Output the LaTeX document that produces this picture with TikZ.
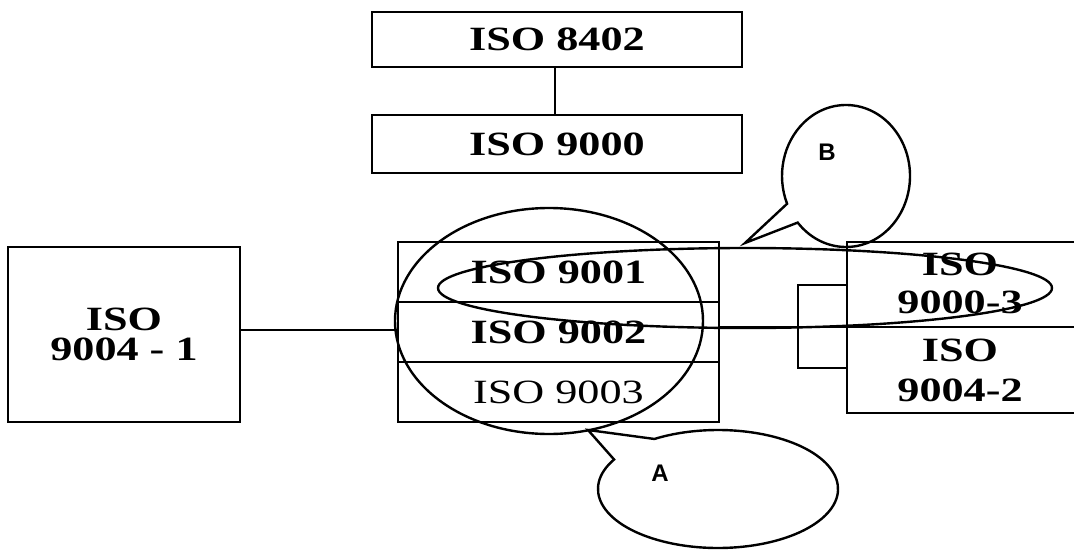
\documentclass[tikz,border=0pt]{standalone}
\usepackage{fontspec}
\newfontfamily\isofont[FakeStretch=1.3]{Liberation Serif}
\newfontfamily\labfont{Liberation Sans}
\usetikzlibrary{calc}
\begin{document}
\begin{tikzpicture}[x=0.75pt,y=0.75pt,line width=1.8pt,
  isotext/.style={inner sep=0pt, align=center, font=\isofont\bfseries\fontsize{25.5}{23}\selectfont},
  box/.style={isotext, draw, rectangle},
  lab/.style={inner sep=0pt, font=\labfont\bfseries\fontsize{18}{18}\selectfont}]
\useasboundingbox (0,0) rectangle (1074,551);
\clip (0,0) rectangle (1074,551);
% top boxes
\node[box, minimum width=277.5pt, minimum height=41.25pt] (s8402) at (557,511.5) {ISO 8402};
\node[box, minimum width=277.5pt, minimum height=43.5pt] (s9000) at (557,407) {ISO 9000};
% main box rows
\node[box, minimum width=240.75pt, minimum height=45pt] (s9001) at (558.5,279) {ISO 9001};
\node[box, minimum width=240.75pt, minimum height=45pt] (s9002) at (558.5,219) {ISO 9002};
\node[box, minimum width=240.75pt, minimum height=45pt, font=\isofont\mdseries\fontsize{25.5}{23}\selectfont] (s9003) at (558.5,159) {ISO 9003};
% left box
\node[box, minimum width=174pt, minimum height=131.25pt] (s90041) at (124,216.5) {ISO\\9004 - 1};
% right box (open to the right)
\coordinate (rtl) at (847,309);
\coordinate (rml) at (847,224);
\coordinate (rbl) at (847,138);
\draw (1090,309) -- (rtl) -- (rbl) -- (1090,138);
\draw (rml) -- (1090,224);
\node[isotext, font=\isofont\bfseries\fontsize{25.5}{28}\selectfont] (s90003) at (960,267.5) {ISO\\9000-3};
\node[isotext, font=\isofont\bfseries\fontsize{25.5}{30}\selectfont] (s90042) at (960,181) {ISO\\9004-2};
% connectors
\draw ([xshift=-1.5pt]s8402.south) -- ([xshift=-1.5pt]s9000.north);
\draw ($(s9000.south)+(12,0)$) -- ($(s9000.south)+(12,0)$ |- s9001.north);
\draw ([yshift=1.5pt]s9002.west) -- ([yshift=1.5pt]s9002.west -| s90041.east);
\draw (s9002.east |- rml) -- (rml);
% bracket
\coordinate (bt) at (798,266);
\coordinate (bb) at (798,183);
\draw (bt -| rml) -- (bt) -- (bb) -- (bb -| rml);
% ellipses
\coordinate (eBig) at (549,230);
\draw (eBig) ellipse [x radius=115.5pt, y radius=84.75pt];
\coordinate (eLong) at (745,263);
\draw (eLong) ellipse [x radius=230.25pt, y radius=30pt];
% callout A
\coordinate (cA) at (718,62);
\coordinate (tA) at (588,121);
\draw (tA) -- ([shift={(150:90pt and 44.25pt)}]cA) arc[start angle=150, end angle=482, x radius=90pt, y radius=44.25pt] -- cycle;
\node[lab] (lA) at (660,78) {A};
% callout B
\coordinate (cB) at (846,375);
\coordinate (tB) at (745,308);
\draw (tB) -- ([shift={(221:48pt and 53.25pt)}]cB) arc[start angle=221, end angle=563, x radius=48pt, y radius=53.25pt] -- cycle;
\node[lab] (lB) at (827,399) {B};
\end{tikzpicture}
\end{document}
